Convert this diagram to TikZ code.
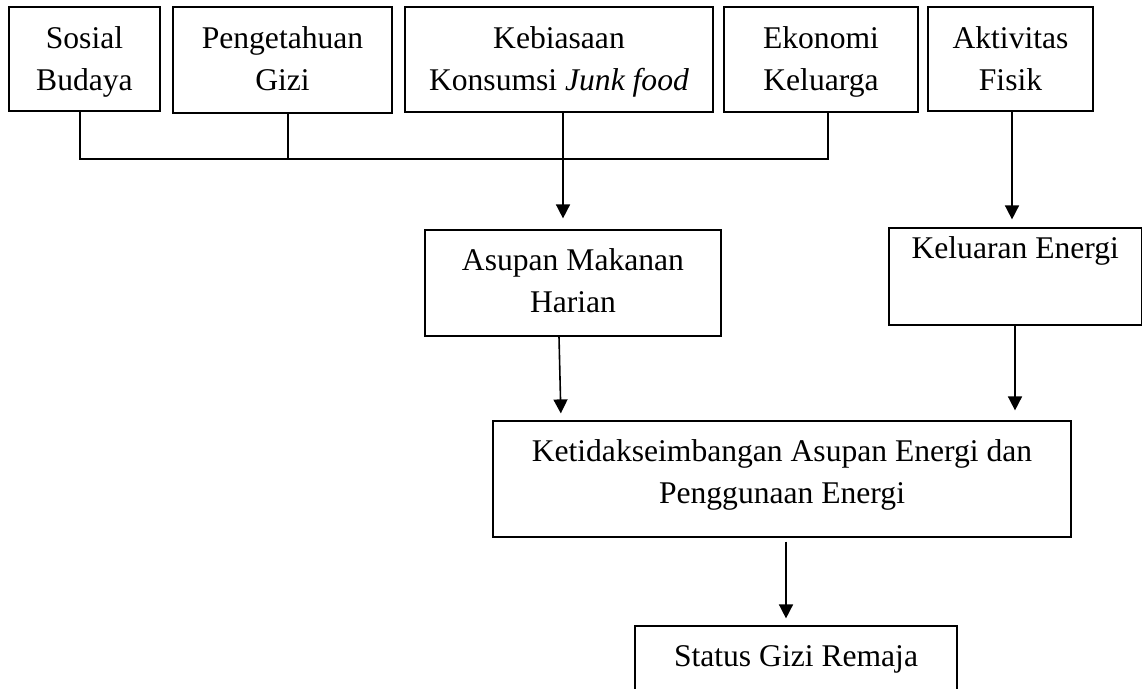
\documentclass[tikz,border=0pt]{standalone}
\usepackage{fontspec}
\setmainfont{Liberation Serif}
\usetikzlibrary{arrows.meta}
\begin{document}
\begin{tikzpicture}[x=1pt,y=-1pt,
  box/.style={draw, line width=1.2pt, inner sep=0pt, rectangle,
    font=\fontsize{31.6}{42.3}\selectfont},
  conn/.style={line width=1.6pt},
  arr/.style={line width=1.6pt, -{Triangle[length=14pt,width=14pt]}}]
\useasboundingbox (0,0) rectangle (1142,688);
\clip (0,0) rectangle (1142,688);
\newcommand{\tl}[1]{\begin{tabular}[t]{@{}c@{}}#1\end{tabular}}
% top row
\node[box, minimum width=151pt, minimum height=104pt, text height=41pt, text depth=63pt]
  (sosial) at (84.5,59) {\tl{Sosial\\Budaya}};
\node[box, minimum width=219pt, minimum height=106pt, text height=41pt, text depth=65pt]
  (penget) at (282.5,60) {\tl{Pengetahuan\\Gizi}};
\node[box, minimum width=308pt, minimum height=105pt, text height=41pt, text depth=64pt]
  (kebias) at (559,59.5) {\tl{Kebiasaan\\Konsumsi \textit{Junk food}}};
\node[box, minimum width=194pt, minimum height=105pt, text height=41pt, text depth=64pt]
  (ekonomi) at (821,59.5) {\tl{Ekonomi\\Keluarga}};
\node[box, minimum width=165pt, minimum height=104pt, text height=41pt, text depth=63pt]
  (aktiv) at (1010.5,59) {\tl{Aktivitas\\Fisik}};
% middle row
\node[box, minimum width=296pt, minimum height=106pt, text height=40pt, text depth=66pt]
  (asupan) at (573,283) {\tl{Asupan Makanan\\Harian}};
\node[box, minimum width=252.5pt, minimum height=97pt, text height=30pt, text depth=67pt]
  (keluaran) at (1015.25,276.5) {\tl{Keluaran Energi}};
\node[box, minimum width=578pt, minimum height=116pt, text height=40pt, text depth=76pt]
  (ketidak) at (782,479) {\tl{Ketidakseimbangan Asupan Energi dan\\Penggunaan Energi}};
\node[box, minimum width=322pt, minimum height=97pt, text height=40pt, text depth=57pt]
  (status) at (796,674.5) {\tl{Status Gizi Remaja}};
% bus
\coordinate (busL) at (80,159);
\coordinate (busR) at (828,159);
\draw[conn] ([xshift=-4.5pt]sosial.south) -- (busL) -- (busR) -- ([xshift=7pt]ekonomi.south);
\draw[conn] ([xshift=5.5pt]penget.south) -- ([xshift=5.5pt]penget.south |- busL);
\draw[arr, shorten >=11pt] ([xshift=4pt]kebias.south) -- ([xshift=4pt]kebias.south |- asupan.north);
\draw[arr, shorten >=8pt] ([xshift=1.5pt]aktiv.south) -- ([xshift=1.5pt]aktiv.south |- keluaran.north);
\draw[arr, shorten >=7pt] ([xshift=-14pt]asupan.south) -- ([xshift=-221pt]ketidak.north);
\draw[arr, shorten >=10pt] ([xshift=-0.25pt]keluaran.south) -- ([xshift=-0.25pt]keluaran.south |- ketidak.north);
\draw[arr, shorten <=4pt, shorten >=7pt] ([xshift=4pt]ketidak.south) -- ([xshift=-10pt]status.north);
\end{tikzpicture}
\end{document}
